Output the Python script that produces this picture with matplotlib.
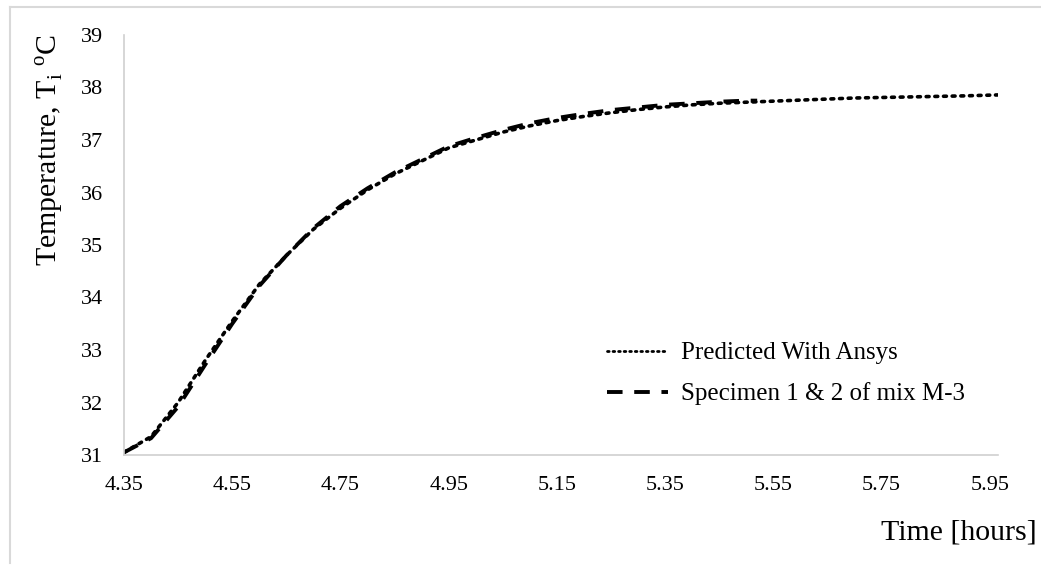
import matplotlib
matplotlib.use("Agg")
import matplotlib.pyplot as plt
from matplotlib.lines import Line2D

# ---- data ----
pred_time = [4.35, 4.40, 4.45, 4.50, 4.55, 4.60, 4.65, 4.70, 4.75, 4.80, 4.85,
             4.90, 4.95, 5.00, 5.05, 5.10, 5.15, 5.20, 5.25, 5.30, 5.35, 5.40,
             5.45, 5.50, 5.55, 5.60, 5.65, 5.70, 5.75, 5.80, 5.85, 5.90, 5.97]
pred_temp = [31.05, 31.35, 32.0, 32.8, 33.55, 34.25, 34.8, 35.3, 35.7, 36.05, 36.35,
             36.6, 36.85, 37.0, 37.15, 37.27, 37.37, 37.45, 37.52, 37.58, 37.63, 37.67,
             37.70, 37.72, 37.74, 37.76, 37.78, 37.80, 37.81, 37.82, 37.83, 37.84, 37.86]

spec_time = [4.35, 4.40, 4.45, 4.50, 4.55, 4.60, 4.65, 4.70, 4.75, 4.80, 4.85,
             4.90, 4.95, 5.00, 5.05, 5.10, 5.15, 5.20, 5.25, 5.30, 5.35, 5.40,
             5.45, 5.50, 5.52]
spec_temp = [31.05, 31.32, 31.92, 32.72, 33.5, 34.22, 34.8, 35.32, 35.74, 36.08, 36.38,
             36.63, 36.88, 37.04, 37.19, 37.32, 37.42, 37.50, 37.57, 37.62, 37.67, 37.70,
             37.73, 37.75, 37.75]

x_ticks = [4.35, 4.55, 4.75, 4.95, 5.15, 5.35, 5.55, 5.75, 5.95]
y_ticks = [31, 32, 33, 34, 35, 36, 37, 38, 39]

labels = ["Predicted With Ansys", "Specimen 1 & 2 of mix M-3"]

# ---- style ----
plt.rcParams['font.family'] = ['Liberation Serif', 'DejaVu Serif']
plt.rcParams['mathtext.fontset'] = 'custom'
plt.rcParams['mathtext.rm'] = 'Liberation Serif'

W, H = 1041, 565
fig = plt.figure(figsize=(W / 100, H / 100), dpi=100)
ax = fig.add_axes([124 / W, 1 - 455 / H, 874 / W, 420 / H])

ax.plot(pred_time, pred_temp, color='black', linestyle=(0, (0.8, 1.6)),
        linewidth=2.6, dash_capstyle='round', label=labels[0])
ax.plot(spec_time, spec_temp, color='black', linestyle=(0, (4, 3)),
        linewidth=2.8, label=labels[1])

ax.set_xlim(4.35, 5.965)
ax.set_ylim(31, 39)
ax.set_xticks(x_ticks)
ax.set_xticklabels([f"{v:.2f}" for v in x_ticks])
ax.set_yticks(y_ticks)
ax.set_yticklabels([str(v) for v in y_ticks])
ax.tick_params(axis='both', length=0, labelsize=16, colors='black')
ax.tick_params(axis='x', pad=15)
ax.tick_params(axis='y', pad=15)

for s in ['top', 'right']:
    ax.spines[s].set_visible(False)
for s in ['left', 'bottom']:
    ax.spines[s].set_color('#d0d0d0')
    ax.spines[s].set_linewidth(1.2)

fig.text(50 / W, 1 - 150 / H, r'Temperature, T$_\mathregular{i}$ $^\mathregular{o}$C',
         rotation=90, ha='center', va='center', fontsize=21.5)
fig.text(1037 / W, 1 - 533 / H, 'Time [hours]', ha='right', va='center', fontsize=21.5)

handles = [Line2D([], [], color='black', linestyle=(0, (0.6, 1.4)), linewidth=2.0,
                  dash_capstyle='round'),
           Line2D([], [], color='black', linestyle=(0, (4, 3)), linewidth=2.8)]
leg = ax.legend(handles, labels, loc='upper left', bbox_to_anchor=(607 / W, 1 - 342 / H),
                bbox_transform=fig.transFigure, frameon=False, fontsize=18,
                handlelength=2.45, handletextpad=0.5, labelspacing=0.72,
                borderpad=0, borderaxespad=0)

# outer chart border (top and left)
fig.add_artist(Line2D([10 / W, 1.0], [1 - 7 / H, 1 - 7 / H], transform=fig.transFigure,
                      color='#d9d9d9', linewidth=1.5))
fig.add_artist(Line2D([10 / W, 10 / W], [1 - 7 / H, 1 - 563 / H], transform=fig.transFigure,
                      color='#d9d9d9', linewidth=1.5))

fig.savefig('out.png', dpi=100)
